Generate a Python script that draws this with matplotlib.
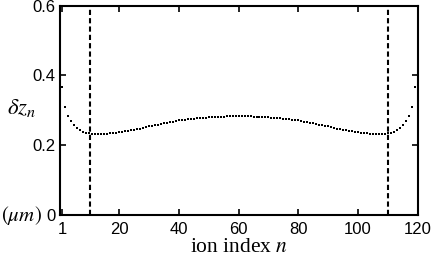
import numpy as np
import matplotlib.pyplot as plt

plt.rcParams['font.family'] = ['Liberation Sans', 'DejaVu Sans']
plt.rcParams['mathtext.fontset'] = 'stix'

# spacing dz_n for the left half of the chain (n = 1..60), chain is symmetric
half = [0.367, 0.309, 0.285, 0.269, 0.258, 0.249, 0.243, 0.239, 0.236, 0.234,
        0.233, 0.232, 0.232, 0.232, 0.232, 0.233, 0.234, 0.235, 0.236, 0.237,
        0.238, 0.240, 0.241, 0.243, 0.244, 0.246, 0.248, 0.250, 0.252, 0.254,
        0.256, 0.258, 0.259, 0.261, 0.263, 0.265, 0.266, 0.268, 0.269, 0.271,
        0.272, 0.273, 0.274, 0.275, 0.276, 0.277, 0.278, 0.279, 0.279, 0.280,
        0.281, 0.281, 0.282, 0.282, 0.282, 0.283, 0.283, 0.283, 0.283, 0.283]
dz = np.array(half + half[-2::-1])
n = np.arange(1, len(dz) + 1)

cut_lines = [10.3, 110]
xticks = [1, 20, 40, 60, 80, 100, 120]
yticks = [0, 0.2, 0.4, 0.6]
yticklabels = ['0', '0.2', '0.4', '0.6']

fig = plt.figure(figsize=(4.36, 2.6), dpi=100)
ax = fig.add_axes([0.1365, 0.173, 0.8215, 0.805])

ax.plot(n, dz, 's', color='black', markersize=1.6, markeredgewidth=0)
for xc in cut_lines:
    ax.axvline(xc, color='black', linestyle=(0, (2.5, 1.5)), linewidth=1.5)

ax.set_xlim(0, 120)
ax.set_ylim(0, 0.6)
ax.set_xticks(xticks)
ax.set_yticks(yticks)
ax.set_yticklabels(yticklabels)
ax.tick_params(direction='in', top=True, right=True, length=4, width=1.2,
               labelsize=12)
ax.tick_params(axis='x', pad=5)
ax.tick_params(axis='y', pad=3)
for s in ax.spines.values():
    s.set_linewidth(1.5)

ax.set_xlabel('ion index $n$', family='Liberation Serif', fontsize=15.5, labelpad=1)
fig.text(0.049, 0.585, r'$\delta z_n$', fontsize=16.5, ha='center', va='center')
fig.text(0.05, 0.172, r'$(\mu m)$', fontsize=15, ha='center', va='center')

fig.savefig('out.png', dpi=100)
